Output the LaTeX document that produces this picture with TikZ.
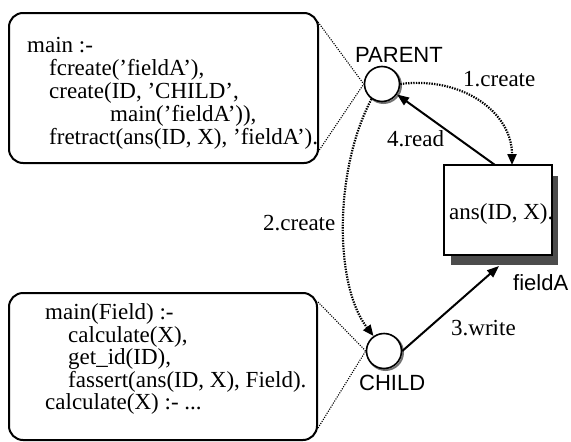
\documentclass[tikz,border=0pt]{standalone}
\usepackage{fontspec}
\setmainfont{Liberation Serif}
\newfontfamily\labelsans{Liberation Sans}
\usetikzlibrary{arrows.meta}
\tikzset{
  codebox/.style={draw=black, line width=2pt, rounded corners=14pt, fill=white},
  codeline/.style={anchor=base west, inner sep=0pt, font=\fontsize{23}{23}\selectfont},
  sanslabel/.style={anchor=base west, inner sep=0pt, font=\labelsans\fontsize{22}{23}\selectfont},
  proc/.style={circle, draw=black, line width=1.6pt, fill=white, minimum size=35pt, inner sep=0pt},
  procshadow/.style={circle, draw=black!55, line width=2pt, minimum size=35pt, inner sep=0pt},
  link/.style={line width=1.1pt, dash pattern=on 1.1pt off 1.3pt},
  fatdots/.style={line width=2.2pt, dash pattern=on 1.4pt off 1.2pt, -{Triangle[length=11pt,width=9pt]}},
  solidarrow/.style={line width=2pt, -{Triangle[length=12pt,width=9pt]}},
}
\begin{document}
\begin{tikzpicture}[x=1pt,y=-1pt]
\useasboundingbox (0,0) rectangle (571,442);
% code boxes
\node[codebox, minimum width=309pt, minimum height=150pt] (pbox) at (163.5,88) {};
\node[codebox, minimum width=308pt, minimum height=147pt] (cbox) at (163,366.5) {};
\node[codeline] (p1) at (27,52) {main :-};
\node[codeline] (p2) at (49,75) {fcreate('fieldA'),};
\node[codeline] (p3) at (49,98) {create(ID, 'CHILD',};
\node[codeline] (p4) at (110,121) {main('fieldA')),};
\node[codeline] (p5) at (49,144) {fretract(ans(ID, X), 'fieldA').};
\node[codeline] (c1) at (45,319) {main(Field) :-};
\node[codeline] (c2) at (68,342) {calculate(X),};
\node[codeline] (c3) at (68,364) {get\_id(ID),};
\node[codeline] (c4) at (68,387) {fassert(ans(ID, X), Field).};
\node[codeline] (c5) at (45,409) {calculate(X) :- ...};
% field
\fill[black!70] (451,176) rectangle (558,265);
\node[draw=black, line width=1.5pt, fill=white, minimum width=108pt, minimum height=90pt, inner sep=0pt] (field) at (498,210) {};
\node[codeline] (ftext) at (449,219) {ans(ID, X).};
\node[sanslabel] (fieldlbl) at (513,290) {fieldA};
% processes
\node[procshadow] (pshadow) at (383.5,85.5) {};
\node[proc] (parent) at (382,84) {};
\node[procshadow] (cshadow) at (385.5,352.5) {};
\node[proc] (child) at (384,351) {};
\node[sanslabel] (parentlbl) at (355,62) {PARENT};
\node[sanslabel] (childlbl) at (359,390) {CHILD};
% links from code boxes
\coordinate (pb1) at (318,22);
\coordinate (pb2) at (318,152);
\coordinate (cb1) at (318,302);
\coordinate (cb2) at (318,428);
\draw[link] (pb1) -- (parent.west);
\draw[link] (pb2) -- (parent.west);
\draw[link] (cb1) -- (child.west);
\draw[link] (cb2) -- (child.west);
% arrows
\coordinate (ftop1) at (512,165);
\coordinate (ftop2) at (495,165);
\coordinate (fbot) at (499,266);
\draw[fatdots] (parent.east) .. controls (462,76) and (512,112) .. (ftop1);
\draw[fatdots] (parent.-125) .. controls (334,170) and (334,285) .. (child.125);
\draw[solidarrow] (ftop2) -- (parent.-35);
\draw[solidarrow] (child.east) -- (fbot);
\node[codeline] (l1) at (463,86) {1.create};
\node[codeline] (l4) at (387,146) {4.read};
\node[codeline] (l2) at (263,230) {2.create};
\node[codeline] (l3) at (451,335) {3.write};
\end{tikzpicture}
\end{document}
